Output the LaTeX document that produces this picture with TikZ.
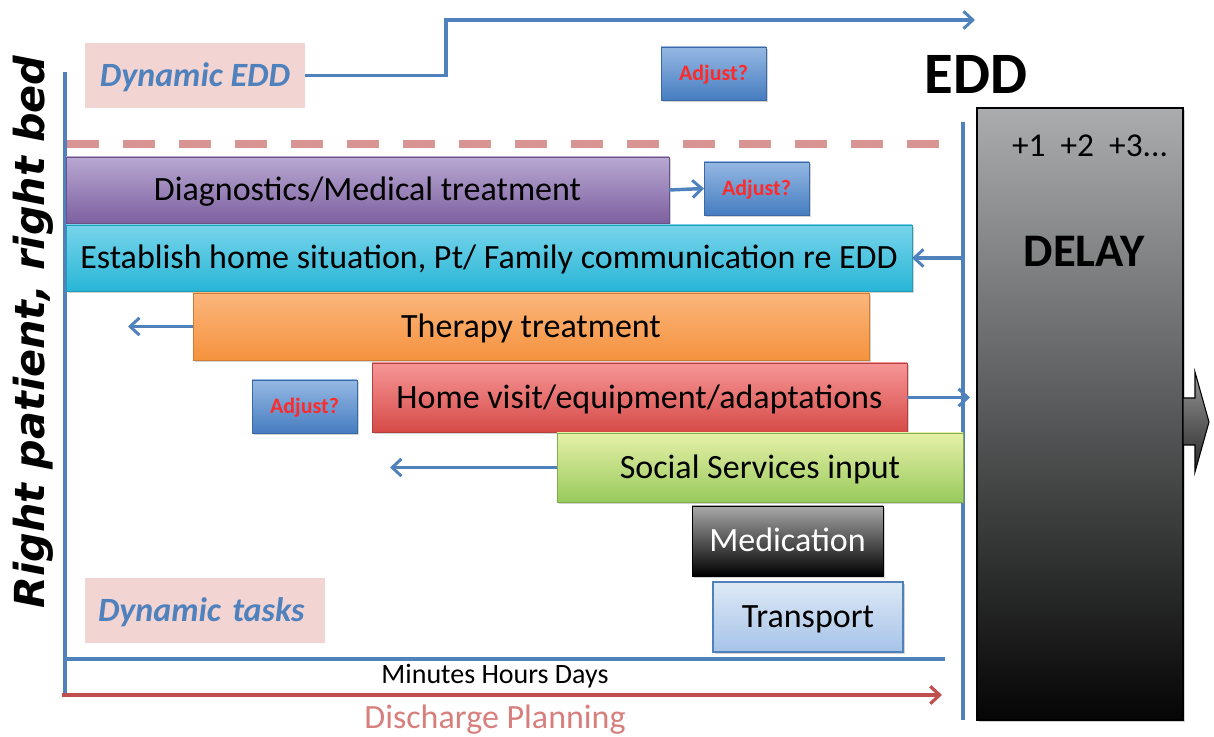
\documentclass[tikz,border=0pt]{standalone}
\usepackage{fontspec}
\setmainfont{Carlito}
\newfontfamily\vfont{DejaVu Sans}
\usetikzlibrary{arrows.meta,shadows}

\definecolor{axisblue}{HTML}{4F81BD}
\definecolor{dashpink}{HTML}{D99594}
\definecolor{labelpink}{HTML}{F2D4D2}
\definecolor{redline}{HTML}{C0504D}
\definecolor{plantext}{HTML}{D77F7D}
\definecolor{adjred}{HTML}{FF2A2A}
\definecolor{adjtop}{HTML}{95B8E3}
\definecolor{adjbot}{HTML}{467DC0}
\definecolor{adjedge}{HTML}{3C69A5}
\definecolor{diagtop}{HTML}{B8A8D2}
\definecolor{diagbot}{HTML}{7D60A0}
\definecolor{hometop}{HTML}{78D4EB}
\definecolor{homebot}{HTML}{28B6D6}
\definecolor{thertop}{HTML}{FBB67C}
\definecolor{therbot}{HTML}{F5923E}
\definecolor{visittop}{HTML}{F69696}
\definecolor{visitbot}{HTML}{D64B48}
\definecolor{soctop}{HTML}{E6F0A8}
\definecolor{socbot}{HTML}{98CA5C}
\definecolor{medtop}{HTML}{A8A8A8}
\definecolor{transtop}{HTML}{DEE9F6}
\definecolor{transbot}{HTML}{A5C3E8}
\definecolor{delaytop}{HTML}{AAACAD}
\definecolor{delaymid}{HTML}{858687}
\definecolor{delaybot}{HTML}{050505}
\definecolor{tiptop}{HTML}{969696}
\definecolor{tipbot}{HTML}{282828}

\begin{document}
\begin{tikzpicture}[x=0.75pt,y=-0.75pt,
  % place a box by its pixel corners (x1,y1) -- (x2,y2)
  span/.style n args={4}{inner sep=0pt, outer sep=0pt,
    minimum width={(#3-#1)*0.75pt}, minimum height={(#4-#2)*0.75pt},
    at={({(#1+#3)/2},{(#2+#4)/2})}},
  boxshadow/.style={drop shadow={opacity=0.35,shadow xshift=1.5pt,shadow yshift=-1.5pt}},
  taskbar/.style n args={2}{rectangle, boxshadow, top color=#1, bottom color=#2,
    draw=#2!85!black, line width=0.6pt, font=\fontsize{25.5}{30}\selectfont, text=black,
    text height=16.4pt, text depth=0pt},
  adjbox/.style={rectangle, boxshadow, top color=adjtop, bottom color=adjbot, draw=adjedge,
    line width=0.6pt, text=adjred, font=\fontsize{16.5}{18}\bfseries\selectfont,
    text height=10.6pt, text depth=0pt},
  pinklabel/.style={rectangle, fill=labelpink, text=axisblue, text height=16.4pt, text depth=0pt,
    font=\fontsize{25.5}{30}\bfseries\itshape\selectfont},
  blueline/.style={draw=axisblue, line width=2.6pt},
  arr/.style={draw=axisblue, line width=2.6pt, -{Straight Barb[length=7pt,width=13pt,line width=2.2pt]}},
]
\useasboundingbox (0,0) rectangle (1214,737);

% axes and guide lines
\coordinate (ltop) at (65,72);
\coordinate (lbot) at (65,697);
\coordinate (rtop) at (963,122);
\coordinate (rbot) at (963,720);
\coordinate (base0) at (65,659);
\coordinate (base1) at (945,659);
\coordinate (plan0) at (62,695);
\coordinate (plan1) at (942,695);
\coordinate (dash0) at (67,144);
\coordinate (dash1) at (940,144);
\path[blueline] (ltop) -- (lbot);
\path[blueline] (rtop) -- (rbot);
\path[blueline] (base0) -- (base1);
\draw[draw=redline, line width=2.8pt, -{Straight Barb[length=7pt,width=13pt,line width=2.4pt]}] (plan0) -- (plan1);
\draw[draw=dashpink, line width=6pt, dash pattern=on 24pt off 18pt] (dash0) -- (dash1);

% side title
\node[rotate=90, font=\vfont\fontsize{31}{35}\bfseries\itshape\selectfont] (side) at (33,332) {Right patient, right bed};

% dynamic labels
\node[pinklabel, span={85}{43}{305}{108}] (dedd) {Dynamic EDD};
\node[pinklabel, span={85}{578}{325}{643}, text width=160.5pt, align=left] (dtasks) {\mbox{Dynamic tasks}};

\coordinate (stepup) at (446,20);
\coordinate (eddend) at (975,20);
\draw[arr] (dedd.east) -| (stepup) -- (eddend);

\node[adjbox, span={661}{47}{766}{100}] (adj1) {Adjust?};
\node[font=\fontsize{44}{48}\bfseries\selectfont] (edd) at (976,74) {EDD};

% task bars
\node[taskbar={diagtop}{diagbot}, span={66}{157}{669}{223}] (diag) {Diagnostics/Medical treatment};
\node[adjbox, span={704}{162}{809}{215}] (adj2) {Adjust?};
\draw[arr] (diag.east) -- (adj2.west);

\node[taskbar={hometop}{homebot}, span={66}{225}{912}{291}] (home) {Establish home situation, Pt/ Family communication re EDD};
\coordinate (homein) at (963,258);
\draw[arr] (homein) -- (home.east);

\node[taskbar={thertop}{therbot}, span={193}{293}{869}{360}] (therapy) {Therapy treatment};
\coordinate (therout) at (128,326.5);
\draw[arr] (therapy.west) -- (therout);

\node[taskbar={visittop}{visitbot}, span={372}{363}{907}{432}] (visit) {Home visit/equipment/adaptations};
\node[adjbox, span={252}{380}{357}{433}] (adj3) {Adjust?};
\coordinate (visitout) at (970,397.5);
\draw[arr] (visit.east) -- (visitout);

\node[taskbar={soctop}{socbot}, span={557}{433}{963}{502}] (social) {Social Services input};
\coordinate (socout) at (390,467.5);
\draw[arr] (social.west) -- (socout);

\node[taskbar={medtop}{black}, draw=black, text=white, span={692}{506}{883}{576}] (med) {Medication};
\node[taskbar={transtop}{transbot}, draw=axisblue, line width=1pt, span={713}{582}{903}{652}] (trans) {Transport};

% delay column
\node[rectangle, draw=black, line width=0.8pt, boxshadow,
  top color=delaytop, middle color=delaymid, bottom color=delaybot,
  span={977}{108}{1183}{720}] (delay) {};
\node[font=\fontsize{25}{28}\selectfont] (days) at (1090,146) {+1\ \ +2\ \ +3...};
\node[font=\fontsize{35}{38}\bfseries\selectfont] (delaytxt) at (1084,251) {DELAY};
\path[draw=black, line width=0.8pt, top color=tiptop, bottom color=tipbot]
  (1183,398) -- (1195,398) -- (1195,372) -- (1209,422) -- (1195,472) -- (1195,445) -- (1183,445) -- cycle;

% time scale labels
\node[font=\fontsize{21}{24}\selectfont] (scale) at (495,676) {Minutes Hours Days};
\node[font=\fontsize{25.5}{28}\selectfont, text=plantext] (plan) at (495,720) {Discharge Planning};
\end{tikzpicture}
\end{document}
